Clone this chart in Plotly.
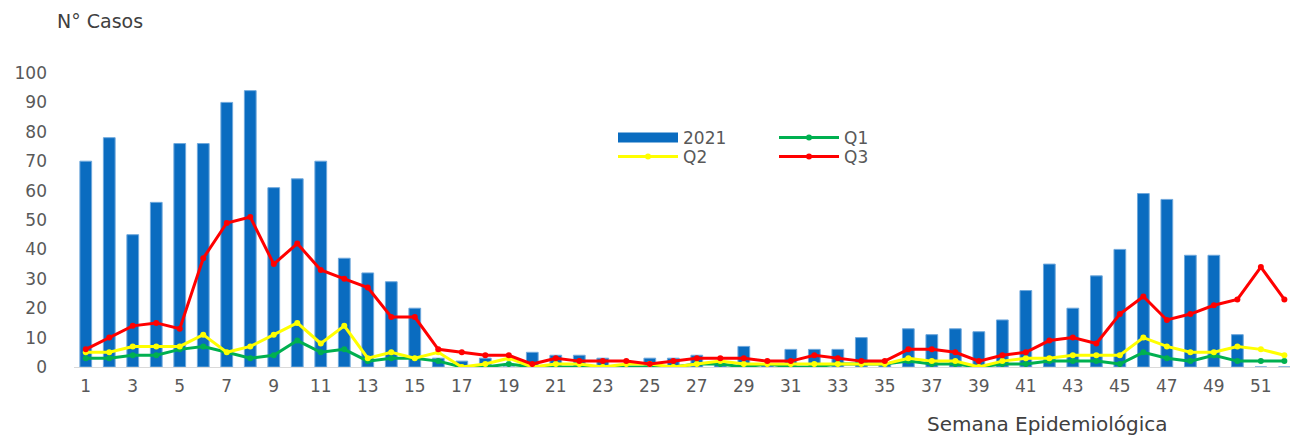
import plotly.graph_objects as go

weeks = list(range(1, 53))

cases_2021 = [70, 78, 45, 56, 76, 76, 90, 94, 61, 64, 70, 37, 32, 29, 20, 3, 2, 3, 0, 5,
              4, 4, 3, 0, 3, 3, 4, 1, 7, 1, 6, 6, 6, 10, 1, 13, 11, 13, 12, 16,
              26, 35, 20, 31, 40, 59, 57, 38, 38, 11, 0, 0]

q1 = [3, 3, 4, 4, 6, 7, 5, 3, 4, 9, 5, 6, 2, 3, 3, 2, 0, 0, 1, 0,
      0, 0, 0, 0, 0, 0, 1, 1, 0, 1, 0, 0, 1, 1, 1, 2, 1, 1, 0, 1,
      1, 2, 2, 2, 1, 5, 3, 2, 4, 2, 2, 2]

q2 = [5, 5, 7, 7, 7, 11, 5, 7, 11, 15, 8, 14, 3, 5, 3, 5, 0, 1, 3, 0,
      1, 1, 0, 1, 1, 0, 1, 2, 1, 1, 1, 1, 1, 1, 1, 3, 2, 2, 0, 2,
      3, 3, 4, 4, 4, 10, 7, 5, 5, 7, 6, 4]

q3 = [6, 10, 14, 15, 13, 37, 49, 51, 35, 42, 33, 30, 27, 17, 17, 6, 5, 4, 4, 1,
      3, 2, 2, 2, 1, 2, 3, 3, 3, 2, 2, 4, 3, 2, 2, 6, 6, 5, 2, 4,
      5, 9, 10, 8, 18, 24, 16, 18, 21, 23, 34, 23]

x_ticks = list(range(1, 53, 2))

# figure is drawn inside the page's 8px body margin
W, H = 1283, 431
ML, MR, MT, MB = 66, 1, 65, 72
PW, PH = W - ML - MR, H - MT - MB


def px_x(x):
    return (x - 8 - ML) / PW


def px_y(y):
    return (H - MB - (y - 8)) / PH


BAR_BLUE = "#0A6CC0"

fig = go.Figure()

fig.add_trace(go.Bar(
    x=weeks, y=cases_2021, name="2021", width=0.5, showlegend=False,
    marker=dict(color=BAR_BLUE, line=dict(color="#6FA8DC", width=1)),
))
# legend proxy for the bars (wide rectangle like the original)
fig.add_trace(go.Scatter(
    x=[None], y=[None], name="2021", mode="lines",
    line=dict(color=BAR_BLUE, width=10), legend="legend",
))

line_series = [("Q1", q1, "#00B050", "legend2"),
               ("Q2", q2, "#FFFF00", "legend3"),
               ("Q3", q3, "#FF0000", "legend4")]
for name, vals, color, leg in line_series:
    fig.add_trace(go.Scatter(
        x=weeks, y=vals, name=name, mode="lines+markers",
        line=dict(color=color, width=3),
        marker=dict(color=color, size=6),
        legend=leg,
    ))

legend_style = dict(
    font=dict(family="DejaVu Sans", size=17, color="#595959"),
    bgcolor="rgba(0,0,0,0)", itemwidth=60,
    yanchor="middle", xanchor="left",
)
col1, col2 = px_x(613), px_x(774)
row1, row2 = px_y(138), px_y(157)

fig.update_layout(
    width=W, height=H,
    margin=dict(l=ML, r=MR, t=MT, b=MB),
    plot_bgcolor="white", paper_bgcolor="white",
    showlegend=True,
    legend=dict(x=col1, y=row1, **legend_style),
    legend2=dict(x=col2, y=row1, **legend_style),
    legend3=dict(x=col1, y=row2, **legend_style),
    legend4=dict(x=col2, y=row2, **legend_style),
    xaxis=dict(
        range=[0.5, 52.24], tickmode="array", tickvals=x_ticks,
        ticktext=[str(t) for t in x_ticks], showgrid=False,
        showline=True, linecolor="#D9D9D9", linewidth=1, ticks="",
        ticklabelstandoff=4,
        tickfont=dict(family="DejaVu Sans", size=17, color="#595959"),
    ),
    yaxis=dict(
        range=[0, 100], dtick=10, showgrid=False, zeroline=False,
        showline=False, ticks="", ticklabelstandoff=26,
        tickfont=dict(family="DejaVu Sans", size=17, color="#595959"),
    ),
    annotations=[
        dict(text="N° Casos", x=px_x(55), y=px_y(21), xref="paper", yref="paper",
             showarrow=False, xanchor="left", yanchor="middle",
             font=dict(family="DejaVu Sans", size=19, color="#404040")),
        dict(text="Semana Epidemiológica", x=px_x(925), y=px_y(438),
             xref="paper", yref="paper",
             showarrow=False, xanchor="left", yanchor="bottom",
             font=dict(family="DejaVu Sans", size=20, color="#404040")),
    ],
)

fig.write_html("out.html")
